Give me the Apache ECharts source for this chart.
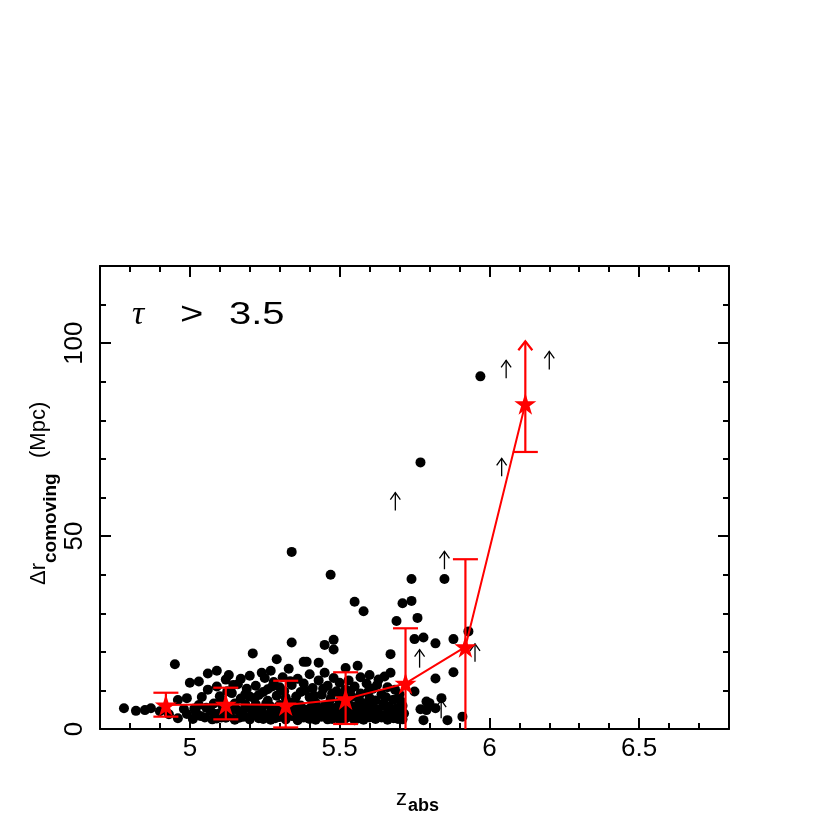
<!DOCTYPE html>
<html>
<head>
<meta charset="utf-8">
<script src="https://cdn.jsdelivr.net/npm/echarts@6.0.0/dist/echarts.min.js"></script>
<style>
  html, body { margin: 0; padding: 0; background: #fff; }
  #chart { width: 830px; height: 830px; }
</style>
</head>
<body>
<div id="chart"></div>
<script>
// individual sightlines: [z_abs, delta r (Mpc)]
var dots = [
  [4.78,5.4],[4.82,4.7],[4.85,4.9],[4.87,5.4],[4.90,4.6],
  [4.93,3.8],[4.95,16.8],[4.96,7.5],[4.96,2.8],[4.98,5.2],[4.99,8.0],[5.00,12.0],[4.99,3.9],
  [5.01,2.6],[5.02,4.4],[5.03,12.3],[5.03,6.2],[5.04,8.3],[5.05,3.0],[5.06,14.4],[5.06,10.2],[5.07,4.6],[5.08,6.6],[5.09,15.1],[5.09,2.7],[5.09,11.0],[5.10,8.5],[5.10,4.1],
  [5.11,5.9],[5.12,2.9],[5.12,12.8],[5.13,14.0],[5.13,4.3],[5.14,9.3],[5.15,6.6],[5.15,2.4],[5.16,11.6],[5.16,4.8],[5.17,13.0],[5.17,7.9],[5.18,3.2],[5.19,10.4],[5.19,5.6],[5.20,2.5],[5.20,8.4],[5.20,13.8],
  [5.21,19.6],[5.21,4.2],[5.22,6.4],[5.22,11.2],[5.23,2.8],[5.23,8.8],[5.24,14.6],[5.24,5.2],[5.25,13.2],[5.25,3.6],[5.26,7.3],[5.26,10.3],[5.27,15.1],[5.27,2.4],[5.27,5.8],[5.28,12.2],[5.28,4.4],[5.29,18.1],[5.29,8.6],[5.30,3.1],[5.30,10.8],[5.30,6.2],
  [5.31,13.4],[5.31,4.7],[5.32,2.5],[5.32,8.1],[5.33,15.6],[5.33,5.5],[5.34,22.4],[5.34,11.4],[5.34,3.4],[5.35,7.0],[5.36,13.0],[5.36,4.6],[5.36,2.3],[5.37,9.6],[5.37,6.1],[5.38,17.4],[5.38,3.0],[5.38,11.8],[5.39,17.4],[5.39,5.0],[5.40,8.2],[5.40,14.2],[5.40,2.6],
  [5.41,4.0],[5.41,10.6],[5.42,6.8],[5.42,2.4],[5.43,17.2],[5.43,12.6],[5.43,4.8],[5.44,8.9],[5.44,3.2],[5.45,21.8],[5.45,6.0],[5.45,14.6],[5.46,11.2],[5.46,2.5],[5.47,4.4],[5.47,7.8],[5.48,23.1],[5.48,20.6],[5.48,13.2],[5.48,3.3],[5.49,5.6],[5.49,9.8],[5.50,2.4],[5.50,12.0],[5.50,7.0],
  [5.51,4.3],[5.52,15.8],[5.52,10.2],[5.52,2.8],[5.53,6.4],[5.53,12.6],[5.54,4.0],[5.54,8.4],[5.55,2.3],[5.55,11.0],[5.56,5.6],[5.56,16.4],[5.57,3.3],[5.57,9.2],[5.57,13.4],[5.58,6.6],[5.58,2.4],[5.59,4.6],[5.59,11.8],[5.60,8.0],[5.60,3.0],[5.60,14.0],
  [5.61,5.4],[5.61,10.4],[5.62,2.6],[5.62,7.4],[5.63,12.8],[5.63,4.2],[5.64,9.0],[5.64,3.0],[5.65,6.0],[5.65,13.6],[5.66,2.4],[5.66,10.8],[5.67,14.6],[5.67,19.4],[5.67,4.8],[5.68,7.6],[5.68,2.8],[5.69,5.4],[5.70,3.4],[5.70,9.0],[5.71,6.0],[5.71,2.5],
  [5.015,5.3],[5.035,3.4],[5.055,5.5],[5.075,2.5],[5.085,3.9],[5.105,3.0],[5.115,4.9],[5.135,3.3],[5.145,5.4],[5.165,2.9],[5.175,4.6],[5.185,6.4],[5.205,3.6],[5.215,5.2],[5.235,4.0],[5.245,2.6],[5.255,6.6],[5.265,3.8],[5.285,2.8],[5.295,5.0],
  [5.305,4.0],[5.325,3.6],[5.335,6.8],[5.345,4.8],[5.355,3.0],[5.365,5.6],[5.385,4.2],[5.395,2.8],[5.405,5.6],[5.415,3.0],[5.425,5.4],[5.435,3.8],[5.455,4.0],[5.465,6.2],[5.475,2.6],[5.485,4.6],[5.495,3.6],[5.505,5.4],[5.515,2.6],[5.525,4.8],
  [5.535,3.2],[5.545,5.8],[5.555,4.2],[5.565,2.8],[5.575,5.0],[5.585,3.6],[5.595,6.4],[5.605,4.4],[5.615,2.9],[5.625,5.0],[5.635,3.4],[5.645,6.6],[5.655,3.8],[5.665,5.8],[5.675,3.2],[5.685,4.4],[5.695,2.6],[5.705,5.2],[5.715,4.0],
  [5.105,7.2],[5.125,9.8],[5.145,11.4],[5.185,9.0],[5.215,8.0],[5.245,9.6],[5.275,11.0],[5.315,9.8],[5.335,12.4],[5.355,8.4],[5.385,10.0],[5.415,8.6],[5.445,10.4],[5.475,9.2],[5.505,8.6],[5.535,9.8],[5.565,7.6],[5.595,9.6],[5.625,11.4],[5.655,8.2],[5.685,10.2],[5.705,7.2],
  [5.34,45.9],[5.47,40.0],[5.55,33.0],[5.58,30.5],[5.69,28.0],[5.71,32.6],[5.74,33.2],[5.76,28.8],[5.74,38.9],[5.85,38.9],[5.77,69.1],[5.97,91.4],
  [5.75,23.3],[5.78,23.7],[5.82,22.2],[5.88,23.3],[5.93,25.3],[5.88,14.7],[5.82,13.1],[5.75,9.7],[5.79,7.1],[5.77,5.1],[5.82,5.4],[5.84,8.0],[5.78,2.3],[5.86,2.3],[5.91,3.2],[5.80,6.7],[5.79,4.9]
];

// lower limits (drawn as up arrows), base point
var limits = [[5.686,56.6],[5.85,41.4],[6.041,65.5],[6.056,90.9],[6.20,93.2],[5.767,15.9],[5.952,17.4],[5.839,2.8]];

// binned values
var binZ   = [4.92, 5.12, 5.32, 5.52, 5.72, 5.92, 6.12];
var binMed = [6.2, 6.4, 6.2, 7.8, 11.8, 21.3, 84.3];
var binLo  = [3.2, 2.5, 0.4, 1.3, -10, -10, 71.8];
var binHi  = [9.4, 10.7, 12.5, 14.7, 26.1, 44.0, 100.5];
var binOpen = [0, 0, 0, 0, 0, 0, 1];

var xMajor = [5, 5.5, 6, 6.5];
var xMinor = [4.8, 4.9, 5.1, 5.2, 5.3, 5.4, 5.6, 5.7, 5.8, 5.9, 6.1, 6.2, 6.3, 6.4, 6.6, 6.7];
var yMajor = [0, 50, 100];
var yMinor = [10, 20, 30, 40, 60, 70, 80, 90, 110];

var starPath = 'path://M50,0 L61.2,34.5 L97.6,34.5 L68.2,55.9 L79.4,90.5 L50,69.1 L20.6,90.5 L31.8,55.9 L2.4,34.5 L38.8,34.5 Z';
var tickFont = 'Liberation Sans, Arial, sans-serif';

function axis(pos, ticks, len, line, label) {
  return {
    type: 'value',
    position: pos,
    min: (pos == 'bottom' || pos == 'top') ? 4.7 : 0,
    max: (pos == 'bottom' || pos == 'top') ? 6.8 : 120,
    axisLine: { show: line, onZero: false, lineStyle: { color: '#000', width: 2 } },
    axisTick: { show: true, inside: true, length: len, customValues: ticks, lineStyle: { color: '#000', width: 2 } },
    axisLabel: {
      show: label,
      customValues: ticks,
      color: '#000',
      fontFamily: tickFont,
      fontSize: 26,
      margin: pos == 'left' ? 12 : 7,
      rotate: pos == 'left' ? 90 : 0
    },
    splitLine: { show: false }
  };
}

var chart = echarts.init(document.getElementById('chart'), null, { renderer: 'canvas' });

var option = {
  animation: false,
  backgroundColor: '#fff',
  grid: { left: 100, top: 266, width: 629, height: 463, containLabel: false },
  xAxis: [
    axis('bottom', xMajor, 11, true, true),
    axis('bottom', xMinor, 6, false, false),
    axis('top', xMajor, 11, true, false),
    axis('top', xMinor, 6, false, false)
  ],
  yAxis: [
    axis('left', yMajor, 11, true, true),
    axis('left', yMinor, 6, false, false),
    axis('right', yMajor, 11, true, false),
    axis('right', yMinor, 6, false, false)
  ],
  series: [
    {
      type: 'scatter',
      data: dots,
      symbol: 'circle',
      symbolSize: 10,
      itemStyle: { color: '#000', opacity: 1 },
      z: 2
    },
    {
      type: 'custom',
      data: limits,
      z: 3,
      renderItem: function (params, api) {
        var p = api.coord([api.value(0), api.value(1)]);
        var L = 18, hw = 5, hh = 7;
        return {
          type: 'group',
          children: [
            { type: 'line', shape: { x1: p[0], y1: p[1], x2: p[0], y2: p[1] - L },
              style: { stroke: '#000', lineWidth: 1.3 } },
            { type: 'polyline', shape: { points: [[p[0] - hw, p[1] - L + hh], [p[0], p[1] - L], [p[0] + hw, p[1] - L + hh]] },
              style: { stroke: '#000', fill: null, lineWidth: 1.3 } }
          ]
        };
      }
    },
    {
      type: 'custom',
      clip: true,
      z: 4,
      data: binZ.map(function (z, i) { return [z, binLo[i], binHi[i], binOpen[i]]; }),
      renderItem: function (params, api) {
        var lo = api.coord([api.value(0), api.value(1)]);
        var hi = api.coord([api.value(0), api.value(2)]);
        var open = api.value(3);
        var x = lo[0], cw = 12.5;
        var st = { stroke: '#ff0000', lineWidth: 2.2, fill: null };
        var ch = [
          { type: 'line', shape: { x1: x, y1: lo[1], x2: x, y2: hi[1] }, style: st },
          { type: 'line', shape: { x1: x - cw, y1: lo[1], x2: x + cw, y2: lo[1] }, style: st }
        ];
        if (open) {
          ch.push({ type: 'polyline', shape: { points: [[x - 7, hi[1] + 9], [x, hi[1]], [x + 7, hi[1] + 9]] }, style: st });
        } else {
          ch.push({ type: 'line', shape: { x1: x - cw, y1: hi[1], x2: x + cw, y2: hi[1] }, style: st });
        }
        return { type: 'group', children: ch };
      }
    },
    {
      type: 'line',
      data: binZ.map(function (z, i) { return [z, binMed[i]]; }),
      symbol: starPath,
      symbolSize: 22,
      showAllSymbol: true,
      lineStyle: { color: '#ff0000', width: 2 },
      itemStyle: { color: '#ff0000' },
      z: 5
    }
  ],
  graphic: [
    { type: 'text', x: 132, y: 315, style: { text: 'τ', font: 'italic 34px Liberation Serif', fill: '#000', textVerticalAlign: 'middle' } },
    { type: 'text', x: 180, y: 315, scaleX: 1.25, style: { text: '>', font: '32px Liberation Sans', fill: '#000', textVerticalAlign: 'middle' } },
    { type: 'text', x: 229, y: 315, scaleX: 1.25, style: { text: '3.5', font: '32px Liberation Sans', fill: '#000', textVerticalAlign: 'middle' } },
    { type: 'text', x: 396, y: 799, style: { text: 'z', font: '22px Liberation Sans', fill: '#000', textVerticalAlign: 'middle' } },
    { type: 'text', x: 408, y: 806, style: { text: 'abs', font: 'bold 18px Liberation Sans', fill: '#000', textVerticalAlign: 'middle' } },
    {
      type: 'group',
      x: 47, y: 585,
      rotation: Math.PI / 2,
      children: [
        { type: 'text', x: 0, y: -8, style: { text: 'Δr', font: '22px Liberation Sans', fill: '#000', textVerticalAlign: 'middle' } },
        { type: 'text', x: 22, y: 4, style: { text: 'comoving', font: 'bold 19px Liberation Sans', fill: '#000', textVerticalAlign: 'middle' } },
        { type: 'text', x: 127, y: -8, style: { text: '(Mpc)', font: '22px Liberation Sans', fill: '#000', textVerticalAlign: 'middle' } }
      ]
    }
  ]
};

chart.setOption(option);
</script>
</body>
</html>
